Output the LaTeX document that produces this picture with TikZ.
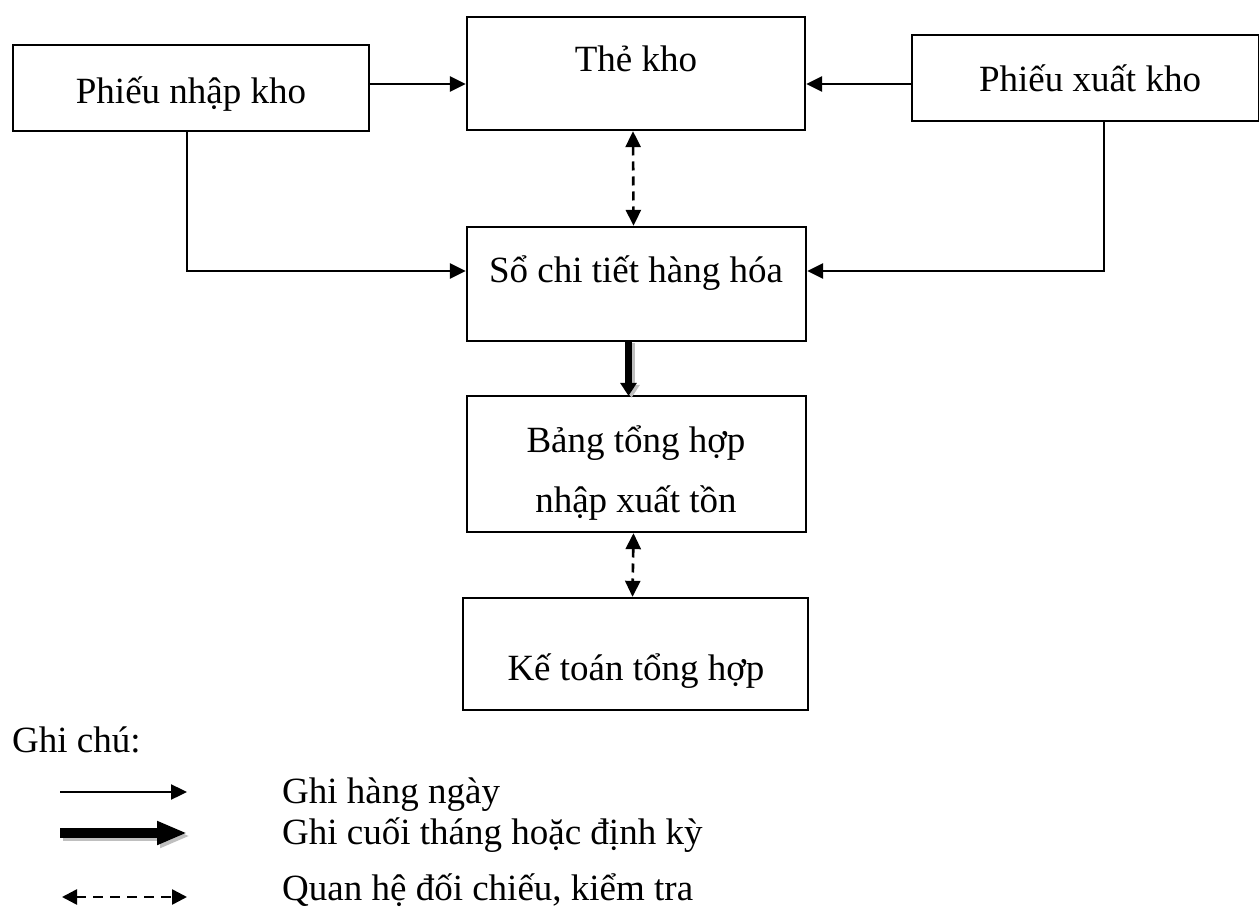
\documentclass[tikz,border=0pt]{standalone}
\usepackage{fontspec}
\setmainfont{Liberation Serif}
\usetikzlibrary{arrows.meta}
\begin{document}
\begin{tikzpicture}[x=1pt,y=-1pt,
  box/.style={draw,line width=2.3pt,minimum width=#1,inner sep=0pt},
  lbl/.style={anchor=base,font=\fontsize{37}{60}\selectfont,inner sep=0pt},
  flow/.style={line width=2.4pt,-{Triangle[length=16pt,width=15pt]}},
  check/.style={line width=2.6pt,dash pattern=on 9pt off 6pt,
    {Triangle[length=16pt,width=15pt]}-{Triangle[length=16pt,width=15pt]}},
  heavy/.style={line width=7pt,-{Triangle[length=13pt,width=16pt]}},
  shade/.style={draw=black!25}]
\useasboundingbox (0,0) rectangle (1259,909);

% boxes
\node[box=356pt,minimum height=86pt]  (pnk) at (191,88)    {};
\node[box=338pt,minimum height=113pt] (tk)  at (636,73.5)  {};
\node[box=347pt,minimum height=86pt]  (pxk) at (1085.5,78) {};
\node[box=339pt,minimum height=114pt] (sct) at (636.5,284) {};
\node[box=339pt,minimum height=136pt] (bth) at (636.5,464) {};
\node[box=345pt,minimum height=112pt] (kth) at (635.5,654) {};

% box texts
\node[lbl] (tpnk) at (191,104)  {Phiếu nhập kho};
\node[lbl] (ttk)  at (636,72)   {Thẻ kho};
\node[lbl] (tpxk) at (1090,92)  {Phiếu xuất kho};
\node[lbl] (tsct) at (636,283)  {Sổ chi tiết hàng hóa};
\node[lbl] (tbt1) at (636,452)  {Bảng tổng hợp};
\node[lbl] (tbt2) at (636,512)  {nhập xuất tồn};
\node[lbl] (tkth) at (636,680)  {Kế toán tổng hợp};

% daily entries
\draw[flow] ([yshift=4pt]pnk.east) -- ([yshift=4pt]pnk.east -| tk.west);
\draw[flow] ([yshift=-6pt]pxk.west) -- ([yshift=-6pt]pxk.west -| tk.east);
\draw[flow] ([xshift=-4pt]pnk.south) |- ([yshift=13pt]sct.west);
\draw[flow] ([xshift=18.5pt]pxk.south) |- ([yshift=13pt]sct.east);

% cross-checks
\draw[check] ([xshift=-3pt]tk.south) -- ([xshift=-3pt]sct.north);
\draw[check] ([xshift=-3pt]bth.south) -- ([xshift=-3pt]kth.north);

% month-end entry
\draw[heavy,shade] ([xshift=-5pt,yshift=-1pt]sct.south) -- ([xshift=-5pt,yshift=-3pt]bth.north);
\draw[heavy] ([xshift=-8pt]sct.south) -- ([xshift=-8pt,yshift=-1pt]bth.north);

% legend
\node[lbl,anchor=base west] (note) at (12,752) {Ghi chú:};
\coordinate (a1s) at (60,792);  \coordinate (a1e) at (187,792);
\coordinate (a2s) at (60,833);  \coordinate (a2e) at (187,833);
\coordinate (a3s) at (62,897);  \coordinate (a3e) at (187,897);
\draw[flow] (a1s) -- (a1e);
\draw[draw=black!25,line width=10pt,-{Triangle[length=30pt,width=22pt]}] ([xshift=3pt,yshift=-3pt]a2s) -- ([xshift=3pt,yshift=-3pt]a2e);
\draw[line width=10pt,-{Triangle[length=30pt,width=22pt]}] (a2s) -- (a2e);
\draw[line width=2.6pt,dash pattern=on 10pt off 7pt,
  {Triangle[length=15pt,width=15pt]}-{Triangle[length=15pt,width=15pt]}] (a3s) -- (a3e);
\node[lbl,anchor=base west] (l1) at (282,803) {Ghi hàng ngày};
\node[lbl,anchor=base west] (l2) at (282,844) {Ghi cuối tháng hoặc định kỳ};
\node[lbl,anchor=base west] (l3) at (282,900) {Quan hệ đối chiếu, kiểm tra};
\end{tikzpicture}
\end{document}
